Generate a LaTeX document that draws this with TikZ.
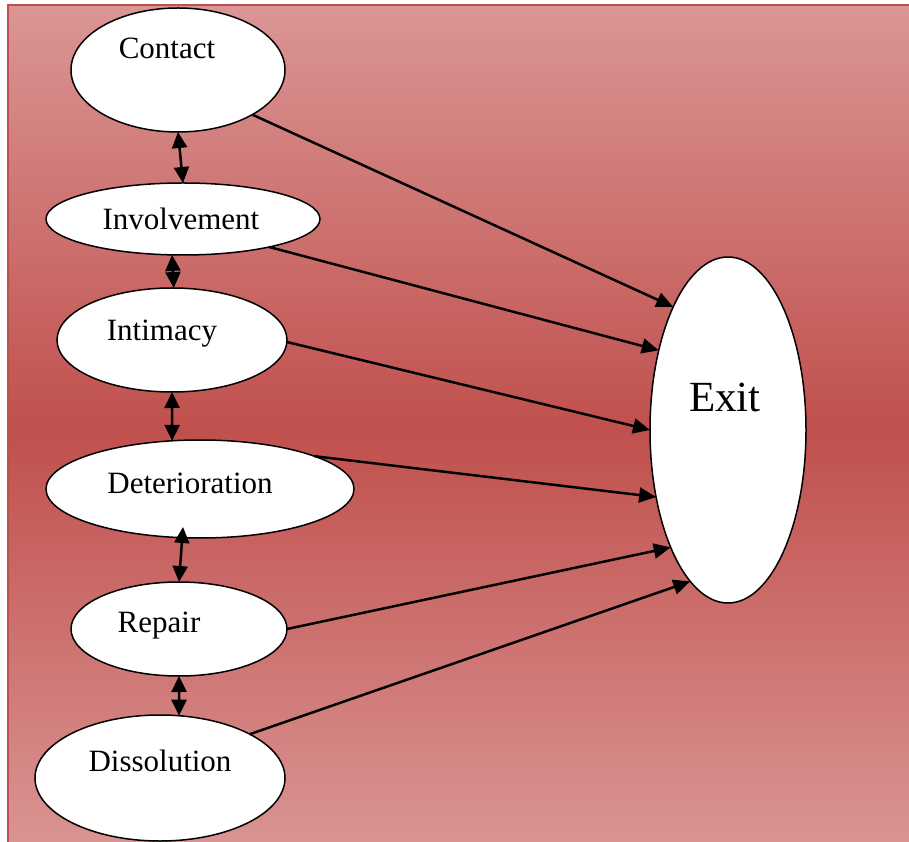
\documentclass[tikz,border=0pt]{standalone}
\usepackage{fontspec}
\setmainfont{Liberation Serif}
\usetikzlibrary{arrows.meta,shapes.geometric,calc}
\definecolor{bgtop}{RGB}{218,150,149}
\definecolor{bgmid}{RGB}{192,80,77}
\definecolor{bgline}{RGB}{192,80,77}
\tikzset{
  ell/.style={ellipse, draw=black, line width=1.5pt, fill=white, inner sep=0pt, outer sep=0pt},
  lbl/.style={inner sep=0pt, text height=0pt, text depth=0pt, font=\fontsize{31}{36}\selectfont},
  arr/.style={line width=2.5pt, -{Triangle[length=17pt,width=15pt]}},
  darr/.style={line width=2.5pt, {Triangle[length=16pt,width=15pt]}-{Triangle[length=16pt,width=15pt]}}
}
\begin{document}
\begin{tikzpicture}[x=1pt,y=1pt]
\useasboundingbox (0,0) rectangle (909,841);
\begin{scope}
\clip (0,0) rectangle (909,841);
\shade[top color=bgtop, bottom color=bgtop, middle color=bgmid] (8,-14) rectangle (930,836);
\draw[bgline, line width=2.5pt] (8,-20) -- (8,836) -- (930,836);
\end{scope}
\node[ell, minimum width=214pt, minimum height=124pt,
  label={[lbl, xshift=-11pt, yshift=11pt]center:Contact}] (contact) at (178,771) {};
\node[ell, minimum width=274pt, minimum height=72pt,
  label={[lbl, xshift=-2pt, yshift=-11pt]center:Involvement}] (involvement) at (183,622) {};
\node[ell, minimum width=230pt, minimum height=104pt,
  label={[lbl, xshift=-10pt, yshift=-1pt]center:Intimacy}] (intimacy) at (172,501) {};
\node[ell, minimum width=308pt, minimum height=98pt,
  label={[lbl, xshift=-10pt, yshift=-4pt]center:Deterioration}] (deterioration) at (200,352) {};
\node[ell, minimum width=216pt, minimum height=94pt,
  label={[lbl, xshift=-20pt, yshift=-3pt]center:Repair}] (repair) at (179,212) {};
\node[ell, minimum width=250pt, minimum height=126pt,
  label={[lbl, xshift=0pt, yshift=7pt]center:Dissolution}] (dissolution) at (160,63) {};
\node[ell, minimum width=156pt, minimum height=346pt,
  label={[lbl, font=\fontsize{43}{48}\selectfont, xshift=-3pt, yshift=18pt]center:Exit}] (exit) at (728,411) {};
% vertical double arrows
\draw[darr] (contact.south) -- (involvement.north);
\draw[darr] (involvement.253) -- (intimacy.88);
\draw[darr] (intimacy.south) -- (deterioration.120.6);
\draw[darr] ($(deterioration.south)+(-17,11)$) -- (repair.north);
\draw[darr] (repair.south) -- (dissolution.73);
% arrows to exit
\draw[arr] (contact.-31.3) -- (exit.114.9);
\draw[arr] (involvement.-18.9) -- (exit.131.9);
\draw[arr] (intimacy.-1) -- (exit.180);
\draw[arr] (deterioration.16.7) -- (exit.223.8);
\draw[arr] (repair.0) -- (exit.244.2);
\draw[arr] (dissolution.26.6) -- (exit.256.2);
\end{tikzpicture}
\end{document}
